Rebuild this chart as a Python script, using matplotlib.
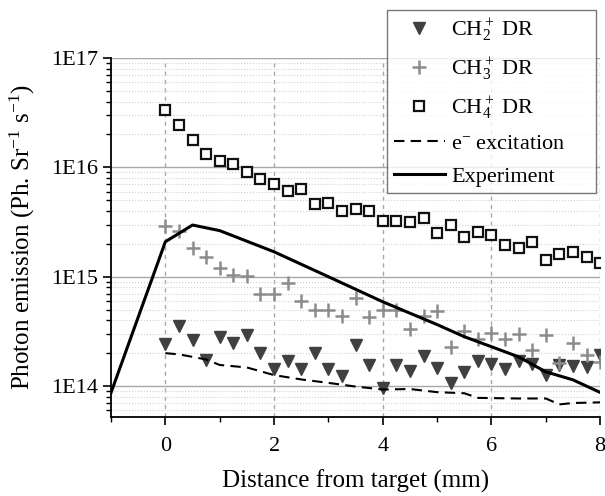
import numpy as np
import matplotlib
matplotlib.use("Agg")
import matplotlib.pyplot as plt
from matplotlib.ticker import FixedLocator, FuncFormatter, MultipleLocator, LogLocator

plt.rcParams['font.family'] = ['Liberation Serif', 'DejaVu Serif']
plt.rcParams['mathtext.fontset'] = 'custom'
plt.rcParams['mathtext.rm'] = 'Liberation Serif'
plt.rcParams['mathtext.it'] = 'Liberation Serif:italic'

# distance grid of the DR points (mm)
dist = np.arange(33) * 0.25

ch2 = [2.41e14, 3.56e14, 2.64e14, 1.75e14, 2.83e14, 2.49e14, 2.91e14, 1.99e14,
       1.44e14, 1.70e14, 1.42e14, 1.99e14, 1.42e14, 1.23e14, 2.37e14, 1.55e14,
       0.97e14, 1.55e14, 1.37e14, 1.88e14, 1.47e14, 1.07e14, 1.34e14, 1.69e14,
       1.59e14, 1.42e14, 1.69e14, 1.58e14, 1.26e14, 1.57e14, 1.52e14, 1.50e14,
       1.91e14]
ch3 = [2.91e15, 2.64e15, 1.82e15, 1.52e15, 1.21e15, 1.04e15, 1.01e15, 7.0e14,
       7.0e14, 8.7e14, 6.0e14, 5.0e14, 4.95e14, 4.37e14, 6.4e14, 4.25e14,
       5.0e14, 5.0e14, 3.3e14, 4.37e14, 4.89e14, 2.29e14, 3.18e14, 2.67e14,
       3.03e14, 2.71e14, 2.97e14, 2.13e14, 2.93e14, 1.61e14, 2.49e14, 1.91e14,
       1.67e14]
ch4 = [3.33e16, 2.43e16, 1.77e16, 1.33e16, 1.15e16, 1.07e16, 9.14e15, 7.9e15,
       7.1e15, 6.1e15, 6.3e15, 4.6e15, 4.75e15, 4.0e15, 4.16e15, 4.0e15,
       3.25e15, 3.25e15, 3.18e15, 3.47e15, 2.5e15, 3.0e15, 2.32e15, 2.55e15,
       2.41e15, 1.95e15, 1.84e15, 2.07e15, 1.42e15, 1.6e15, 1.7e15, 1.52e15,
       1.34e15]

# e- excitation (dashed)
exc_x = [0, 0.25, 0.5, 0.75, 1.0, 1.5, 2.0, 2.5, 3.0, 3.5, 4.0, 4.5, 5.0, 5.5,
         5.75, 6.5, 7.0, 7.25, 7.5, 8.0]
exc_y = [2.0e14, 1.95e14, 1.85e14, 1.75e14, 1.56e14, 1.48e14, 1.26e14, 1.15e14,
         1.07e14, 0.99e14, 0.93e14, 0.94e14, 0.88e14, 0.86e14, 0.78e14, 0.77e14,
         0.77e14, 0.68e14, 0.70e14, 0.71e14]

# experiment (solid)
exp_x = [-1, 0, 0.5, 1.0, 2.0, 3.0, 4.0, 5.0, 5.5, 6.0, 6.5, 7.0, 7.5, 8.0]
exp_y = [8.7e13, 2.09e15, 2.97e15, 2.64e15, 1.69e15, 1.0e15, 5.9e14, 3.65e14,
         2.83e14, 2.29e14, 1.85e14, 1.35e14, 1.14e14, 8.75e13]

fig = plt.figure(figsize=(6.05, 4.96), dpi=100)
ax = fig.add_axes([0.1835, 0.159, 0.8085, 0.724])

ax.plot(dist, ch2, 'v', ms=8, color='#404040', ls='none', label=r'CH$_2^+$ DR')
ax.plot(dist, ch3, '+', ms=10, mew=1.8, color='#8c8c8c', ls='none', label=r'CH$_3^+$ DR')
ax.plot(dist, ch4, 's', ms=7, mfc='white', mec='#111111', mew=1.6, ls='none', label=r'CH$_4^+$ DR')
ax.plot(exc_x, exc_y, '--', color='black', lw=1.5, dashes=(5, 3), label=r'e$^{-}$ excitation')
ax.plot(exp_x, exp_y, '-', color='black', lw=2.2, label='Experiment')

ax.set_yscale('log')
ax.set_xlim(-1, 8)
ax.set_ylim(10 ** 13.716, 1e17)

ax.xaxis.set_major_locator(FixedLocator([0, 2, 4, 6, 8]))
ax.xaxis.set_minor_locator(MultipleLocator(1))
ax.yaxis.set_major_locator(LogLocator(base=10, numticks=10))
ax.yaxis.set_minor_locator(LogLocator(base=10, subs=np.arange(2, 10), numticks=20))
ax.yaxis.set_major_formatter(FuncFormatter(lambda v, _: '1E%d' % round(np.log10(v))))
ax.yaxis.set_minor_formatter(FuncFormatter(lambda v, _: ''))

ax.tick_params(which='major', direction='out', length=6, width=1.2, labelsize=16)
ax.tick_params(axis='x', which='major', pad=8)
ax.tick_params(which='minor', direction='out', length=3.5, width=1)

ax.grid(axis='y', which='major', color='#a8a8a8', lw=1, ls='-')
ax.grid(axis='y', which='minor', color='#d0d0d0', lw=0.8, ls=':')
ax.grid(axis='x', which='major', color='#a8a8a8', lw=1, ls=(0, (3, 3)))
ax.set_axisbelow(True)

for s in ['top', 'right']:
    ax.spines[s].set_visible(False)
for s in ['left', 'bottom']:
    ax.spines[s].set_linewidth(1.3)

ax.set_xlabel('Distance from target (mm)', fontsize=18, labelpad=10)
ax.set_ylabel(r'Photon emission (Ph. Sr$^{-1}$ s$^{-1}$)', fontsize=18, labelpad=10)

leg = fig.legend(loc='upper left', bbox_to_anchor=(0.6397, 0.611, 0.3455, 0.369),
                 mode='expand', fontsize=16,
                 frameon=True, fancybox=False, edgecolor='#555555',
                 handlelength=2.3, handletextpad=0.3, labelspacing=0.55,
                 borderpad=0.3, borderaxespad=0)
leg.get_frame().set_linewidth(1.0)

fig.savefig('out.png', dpi=100)
